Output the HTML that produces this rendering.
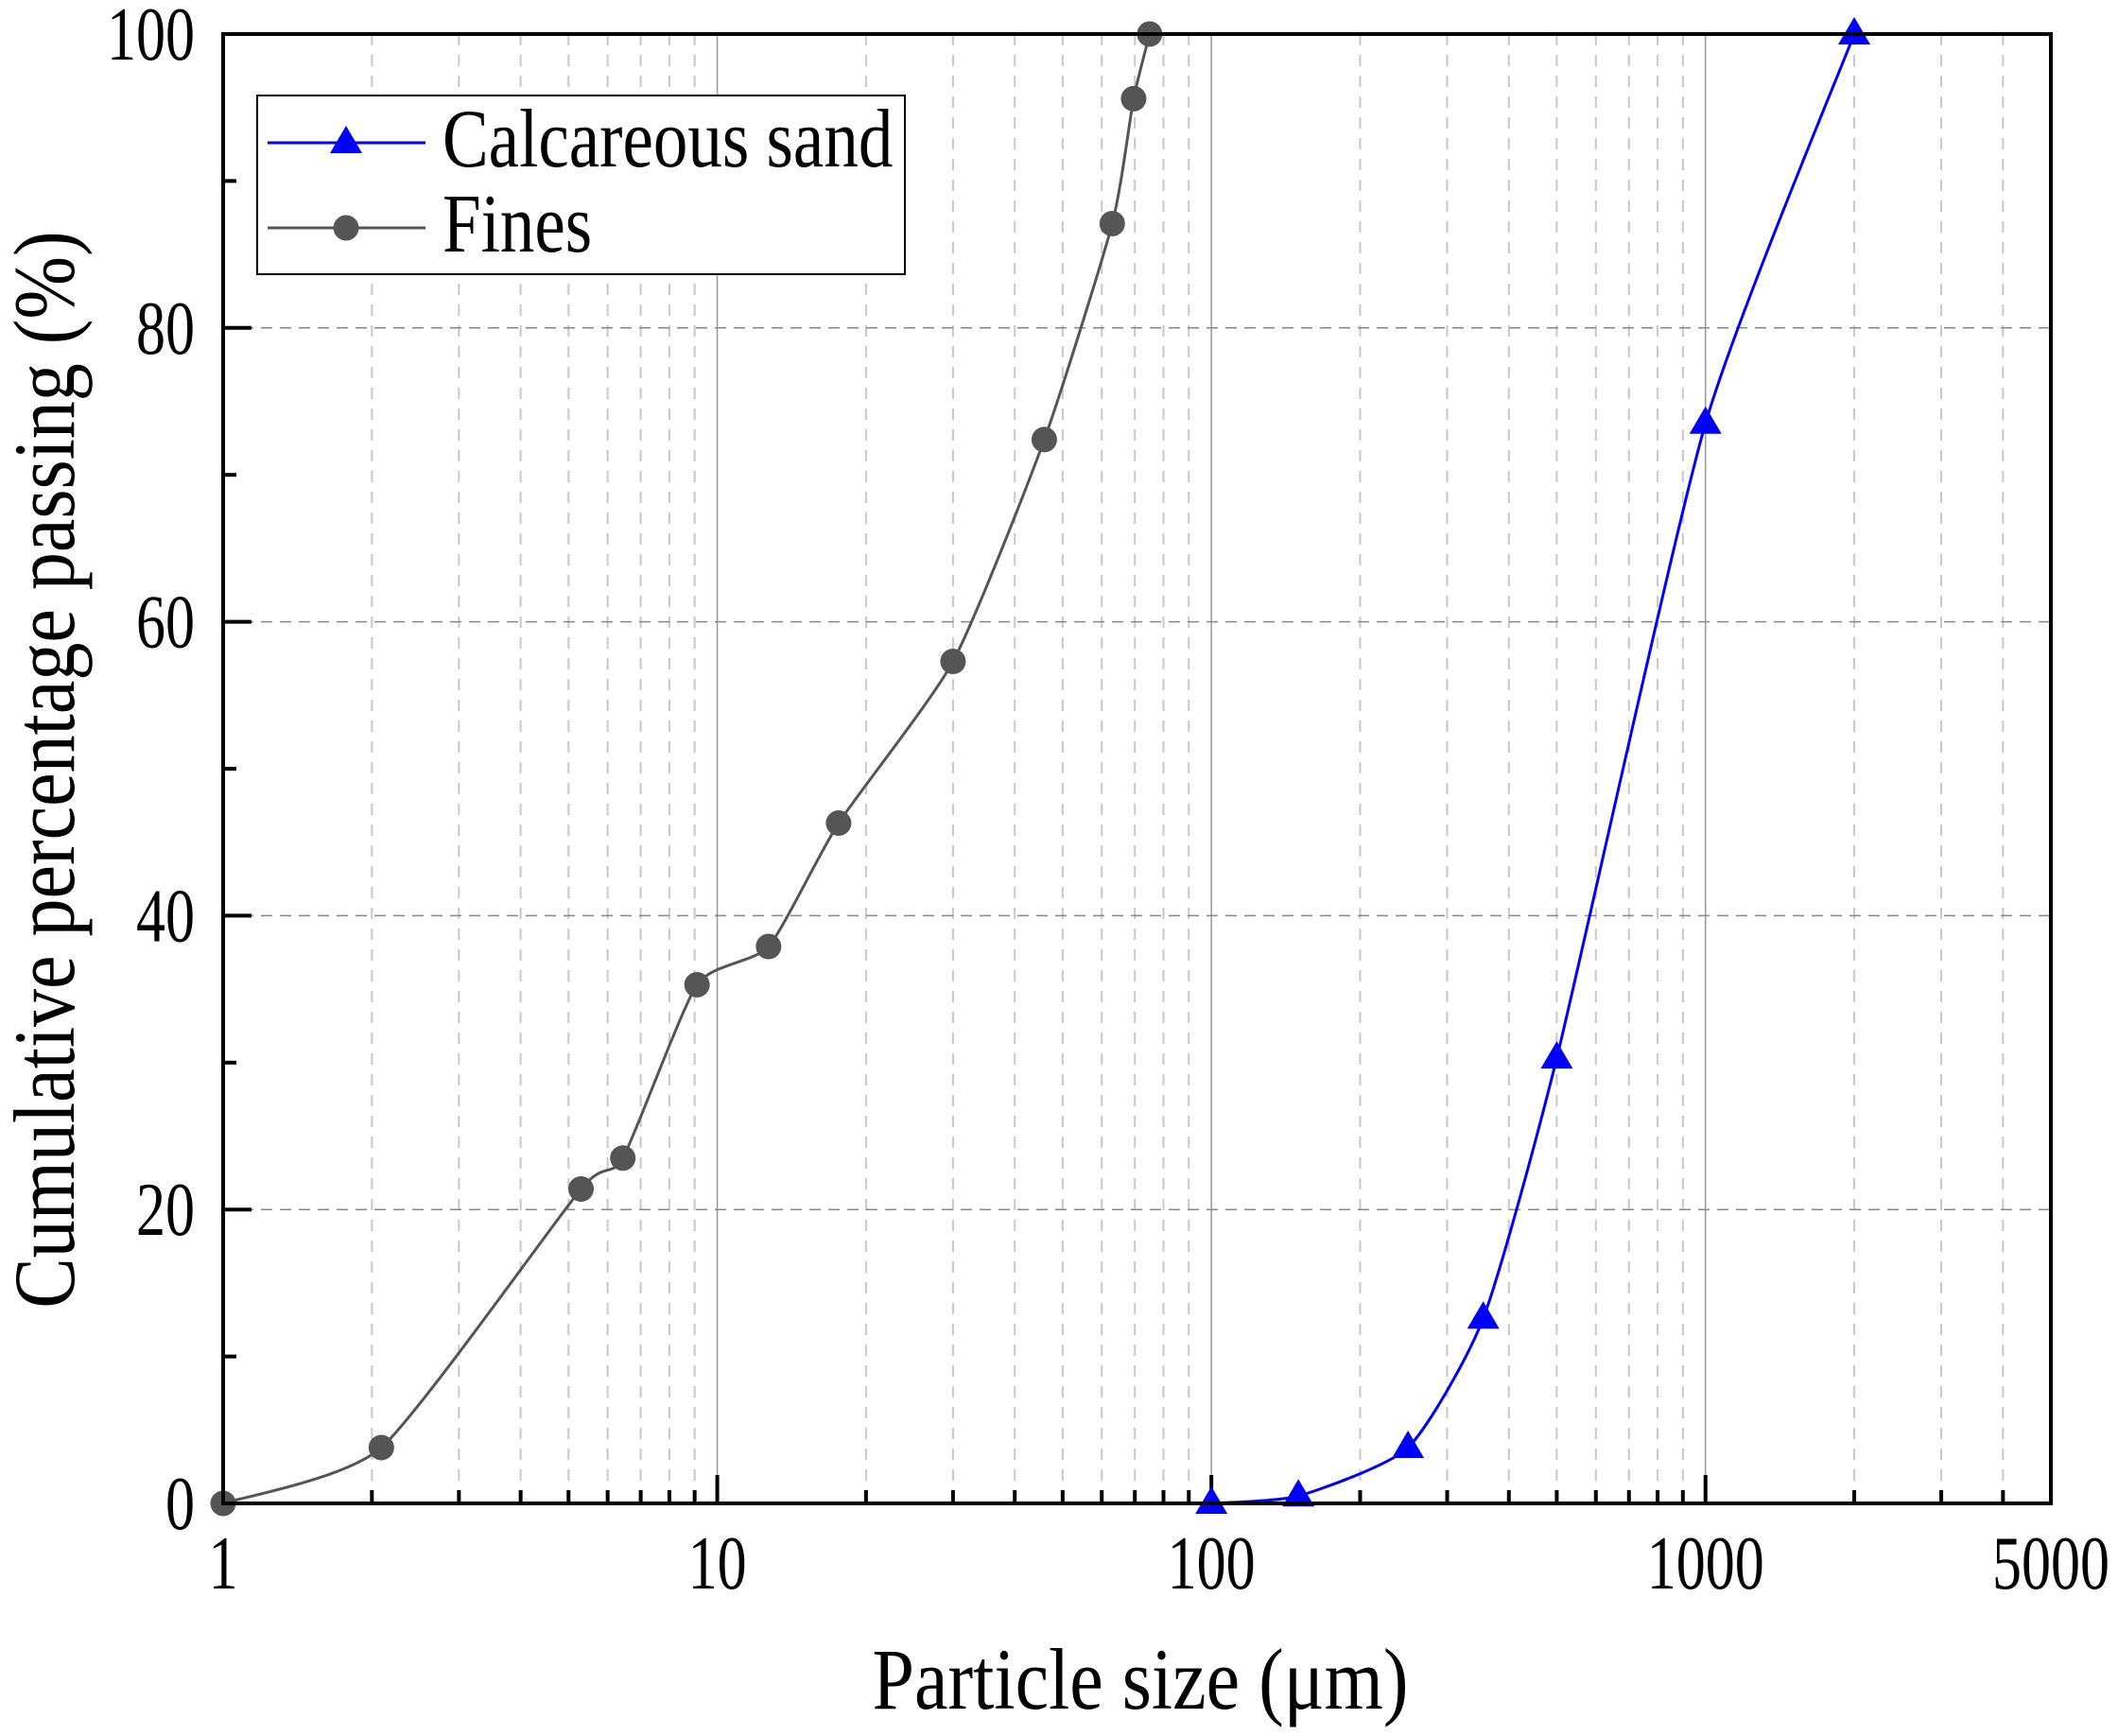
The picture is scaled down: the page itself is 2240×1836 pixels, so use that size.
<!DOCTYPE html>
<html><head><meta charset="utf-8"><style>
html,body{margin:0;padding:0;background:#fff;width:2240px;height:1836px;overflow:hidden}
svg{display:block}
text{font-family:"Liberation Serif",serif;fill:#000}
</style></head><body>
<svg id="s" width="2240" height="1836" xmlns="http://www.w3.org/2000/svg"></svg>
<script>
const L=236,R=2169,T=36,B=1590,DEC=(R-L)/Math.log10(5000);
const X=v=>L+DEC*Math.log10(v), Y=v=>B-v*(B-T)/100;
let h='';
for(let d=1;d<=1000;d*=10)for(let m=2;m<=9;m++){const v=d*m;if(v>=5000)continue;const x=X(v);
h+=`<line x1="${x}" y1="${T}" x2="${x}" y2="${B}" stroke="#c8c8c8" stroke-width="2" stroke-dasharray="12,10"/>`;}
[10,100,1000].forEach(v=>{const x=X(v);h+=`<line x1="${x}" y1="${T}" x2="${x}" y2="${B}" stroke="#999" stroke-width="1.5"/>`;});
[20,40,60,80].forEach(v=>{const y=Y(v);h+=`<line x1="${L}" y1="${y}" x2="${R}" y2="${y}" stroke="#888" stroke-width="1.5" stroke-dasharray="12,8"/>`;});
for(let d=1;d<=1000;d*=10)for(let m=1;m<=9;m++){const v=d*m;if(v>=5000||v==1)continue;const x=X(v);const len=m==1?30:14;
h+=`<line x1="${x}" y1="${B}" x2="${x}" y2="${B-len}" stroke="#000" stroke-width="4"/>`;}
for(let v=10;v<100;v+=10){const y=Y(v);const len=v%20==0?30:14;h+=`<line x1="${L}" y1="${y}" x2="${L+len}" y2="${y}" stroke="#000" stroke-width="4"/>`;}
function path(pts){let d=`M${pts[0][0]},${pts[0][1]}`;const k=10;for(let i=0;i<pts.length-1;i++){const p0=pts[Math.max(i-1,0)],p1=pts[i],p2=pts[i+1],p3=pts[Math.min(i+2,pts.length-1)];
const c1=[p1[0]+(p2[0]-p0[0])/k,p1[1]+(p2[1]-p0[1])/k],c2=[p2[0]-(p3[0]-p1[0])/k,p2[1]-(p3[1]-p1[1])/k];d+=` C${c1[0]},${c1[1]} ${c2[0]},${c2[1]} ${p2[0]},${p2[1]}`;}return d;}
const fines=[[1,0],[2.09,3.8],[5.3,21.4],[6.44,23.5],[9.1,35.3],[12.7,37.9],[17.6,46.3],[30,57.3],[45.9,72.4],[63,87.1],[69.6,95.6],[75,100]].map(p=>[X(p[0]),Y(p[1])]);
const sand=[[100,0],[150,0.5],[250,3.8],[355,12.6],[500,30.3],[1000,73.5],[2000,100]].map(p=>[X(p[0]),Y(p[1])]);
h+=`<path d="${path(fines)}" fill="none" stroke="#555" stroke-width="3"/>`;
fines.forEach(p=>h+=`<circle cx="${p[0]}" cy="${p[1]}" r="13.5" fill="#555"/>`);
h+=`<path d="${path(sand)}" fill="none" stroke="#0000ff" stroke-width="3"/>`;
const tri=(x,y)=>`<polygon points="${x},${y-18} ${x-17},${y+11} ${x+17},${y+11}" fill="#0000ff"/>`;
sand.forEach(p=>h+=tri(p[0],p[1]));
h+=`<rect x="${L}" y="${T}" width="${R-L}" height="${B-T}" fill="none" stroke="#000" stroke-width="4"/>`;
const t=(x,y,s,sz,anc,str)=>`<text transform="translate(${x},${y}) scale(1,${s})" font-size="${sz}" text-anchor="${anc}">${str}</text>`;
[[1,'1'],[10,'10'],[100,'100'],[1000,'1000'],[5000,'5000']].forEach(a=>h+=t(X(a[0]),1680,1.3,62,'middle',a[1]));
[0,20,40,60,80,100].forEach(v=>h+=t(206,Y(v)+27,1.3,62,'end',v));
h+=t(1206,1807,1.15,80,'middle','Particle size (μm)');
h+=`<text transform="translate(78,814) rotate(-90) scale(1,1.15)" font-size="80" text-anchor="middle">Cumulative percentage passing (%)</text>`;
h+=`<rect x="272" y="101" width="685" height="189" fill="#fff" stroke="#000" stroke-width="2"/>`;
h+=`<line x1="283" y1="151" x2="450" y2="151" stroke="#0000ff" stroke-width="3"/>`+tri(366,151);
h+=`<line x1="283" y1="241" x2="450" y2="241" stroke="#555" stroke-width="3"/><circle cx="366" cy="241" r="13.5" fill="#555"/>`;
h+=t(468,176,1.2,73,'start','Calcareous sand')+t(468,266,1.2,73,'start','Fines');
document.getElementById('s').innerHTML=h;
</script>
</body></html>
